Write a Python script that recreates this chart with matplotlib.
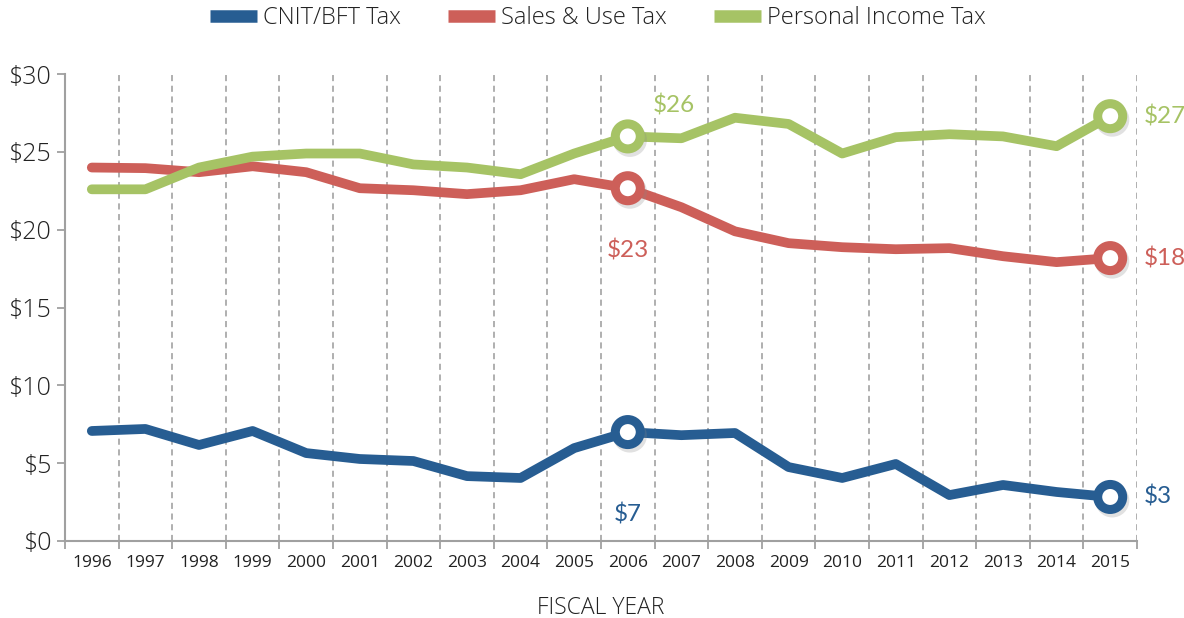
import matplotlib
matplotlib.use("Agg")
import matplotlib.pyplot as plt
import matplotlib.patheffects as pe

# donnees (milliards de $)
years = ["1996", "1997", "1998", "1999", "2000", "2001", "2002", "2003", "2004", "2005",
         "2006", "2007", "2008", "2009", "2010", "2011", "2012", "2013", "2014", "2015"]
cnit = [7.07, 7.2, 6.17, 7.07, 5.65, 5.27, 5.14, 4.17, 4.05, 5.97,
        7.0, 6.8, 6.94, 4.75, 4.05, 4.95, 2.95, 3.6, 3.15, 2.83]
sales = [24.0, 23.96, 23.7, 24.08, 23.7, 22.67, 22.54, 22.29, 22.54, 23.25,
         22.67, 21.45, 19.9, 19.14, 18.88, 18.75, 18.82, 18.3, 17.92, 18.18]
income = [22.6, 22.6, 24.0, 24.7, 24.9, 24.9, 24.2, 24.0, 23.57, 24.9,
          26.0, 25.88, 27.2, 26.8, 24.9, 25.95, 26.14, 26.0, 25.37, 27.3]
series_names = ["CNIT/BFT Tax", "Sales & Use Tax", "Personal Income Tax"]
colors = ["#275D92", "#CD5F59", "#A6C365"]
yticks = [0, 5, 10, 15, 20, 25, 30]

plt.rcParams["font.family"] = ["Open Sans", "DejaVu Sans"]

fig = plt.figure(figsize=(11.84, 6.18), dpi=100)
ax = fig.add_axes([0.0549, 0.1246, 0.9054, 0.7554])

x = list(range(len(years)))
shadow = [pe.SimpleLineShadow(offset=(1.5, -2.5), shadow_color="#888888", alpha=0.25),
          pe.Normal()]
for vals, name, c in zip([cnit, sales, income], series_names, colors):
    ax.plot(x, vals, color=c, lw=7, solid_joinstyle="round", solid_capstyle="round",
            label=name, zorder=3)
    # cercles sur 2006 et 2015
    ax.plot([x[10], x[19]], [vals[10], vals[19]], "o", ms=18, mfc="white", mec=c,
            mew=6.5, zorder=4, path_effects=shadow)

# gridlines verticales pointillees entre les annees
for b in [i + 0.5 for i in range(len(years))]:
    ax.axvline(b, color="#9A9A9A", lw=1.1, ls=(0, (4, 3)), zorder=1)

ax.set_xlim(-0.5, len(years) - 0.5)
ax.set_ylim(0, 30)
ax.set_yticks(yticks)
ax.set_yticklabels(["$" + str(v) for v in yticks], fontsize=18, color="#222222",
                   fontweight="light")
ax.set_xticks(x)
ax.set_xticklabels(years, fontsize=12.5, color="#222222")
ax.tick_params(axis="x", length=0, pad=10)
ax.set_xticks([i - 0.5 for i in range(len(years) + 1)], minor=True)
ax.tick_params(axis="x", which="minor", length=6, color="#A0A0A0", width=1.3)
ax.tick_params(axis="y", length=6, color="#A0A0A0", width=1.3, pad=4)
for s in ["top", "right"]:
    ax.spines[s].set_visible(False)
for s in ["left", "bottom"]:
    ax.spines[s].set_color("#A0A0A0")
    ax.spines[s].set_linewidth(1.5)
ax.set_xlabel("FISCAL YEAR", fontsize=16.5, color="#222222", labelpad=18,
              fontweight="light")

# etiquettes de valeurs
box = dict(facecolor="white", edgecolor="none", pad=1)
lab = dict(fontsize=17.5, family=["Lato", "DejaVu Sans"], bbox=box, zorder=5)
ax.text(x[10] + 0.85, income[10] + 2.0, "$%d" % round(income[10]), color=colors[2],
        ha="center", va="center", **lab)
ax.text(x[10], sales[10] - 4.0, "$%d" % round(sales[10]), color=colors[1],
        ha="center", va="center", **lab)
ax.text(x[10], cnit[10] - 5.3, "$%d" % round(cnit[10]), color=colors[0],
        ha="center", va="center", **lab)
ax.text(x[19] + 0.62, income[19], "$%d" % round(income[19]), color=colors[2],
        ha="left", va="center", **lab)
ax.text(x[19] + 0.62, sales[19], "$%d" % round(sales[19]), color=colors[1],
        ha="left", va="center", **lab)
ax.text(x[19] + 0.62, cnit[19], "$%d" % round(cnit[19]), color=colors[0],
        ha="left", va="center", **lab)

leg = ax.legend(loc="center", bbox_to_anchor=(0.497, 1.12), ncol=3, frameon=False,
                fontsize=17, handlelength=2.0, handletextpad=0.25, columnspacing=2.0,
                borderaxespad=0)
for t in leg.get_texts():
    t.set_color("#222222")
    t.set_fontweight("light")
for h in leg.legend_handles:
    h.set_linewidth(9)
    h.set_solid_capstyle("butt")

fig.savefig("out.png", dpi=100)
